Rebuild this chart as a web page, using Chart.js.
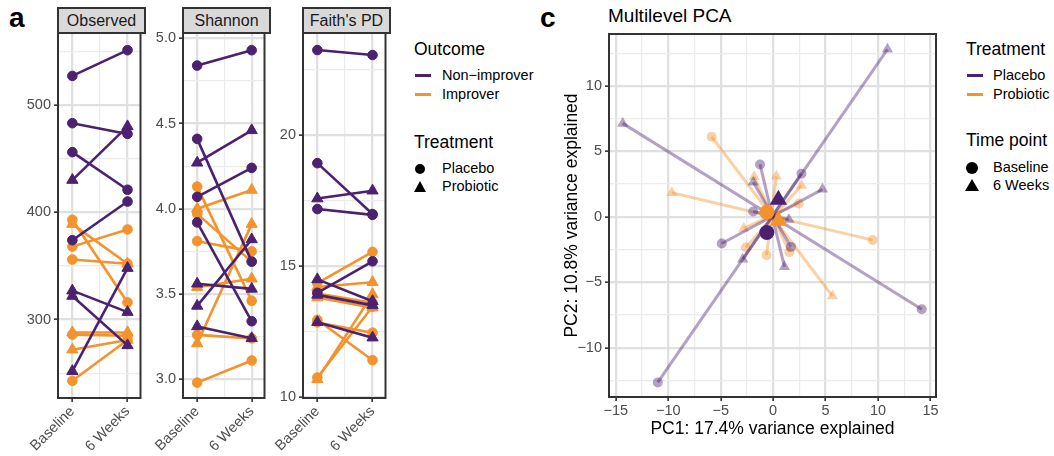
<!DOCTYPE html>
<html>
<head>
<meta charset="utf-8">
<script src="https://cdn.jsdelivr.net/npm/chart.js@4.4.1/dist/chart.umd.min.js"></script>
<style>
  body { margin: 0; background: #fff; width: 1054px; height: 456px; position: relative; overflow: hidden;
         font-family: "Liberation Sans", Arial, sans-serif; }
  canvas { position: absolute; }
  .strip { position: absolute; top: 7px; height: 27px; box-sizing: border-box; background: #D9D9D9;
           border: 2px solid #333; text-align: center; font-size: 16px; line-height: 23px; color: #1a1a1a; }
  .letter { position: absolute; top: 2px; font-size: 28px; font-weight: bold; color: #000; }
  .lt { position: absolute; font-size: 17.5px; line-height: 20px; color: #000; }
  .li { position: absolute; font-size: 14.5px; line-height: 17px; color: #000; }
  .key { position: absolute; width: 16px; height: 3px; }
  .dot { position: absolute; background: #000; border-radius: 50%; }
  .tri { position: absolute; width: 0; height: 0; border-style: solid; border-color: transparent transparent #000 transparent; }
</style>
</head>
<body>
<div class="letter" style="left:9px">a</div>
<div class="letter" style="left:540px">c</div>
<div class="lt" style="left:608px;top:5px;font-size:19px;line-height:22px">Multilevel PCA</div>

<div class="strip" style="left:57px;width:89px">Observed</div>
<div class="strip" style="left:182px;width:89px">Shannon</div>
<div class="strip" style="left:302px;width:89px">Faith's PD</div>

<canvas id="observed" width="148" height="436" style="left:0;top:20px"></canvas>
<canvas id="shannon" width="132" height="436" style="left:140px;top:20px"></canvas>
<canvas id="faith" width="131" height="436" style="left:262px;top:20px"></canvas>
<canvas id="pca" width="387" height="436" style="left:559px;top:20px"></canvas>

<!-- legend of panel a -->
<div class="lt" style="left:414px;top:39px">Outcome</div>
<div class="key" style="left:415px;top:74px;background:#4B2170"></div>
<div class="li" style="left:442px;top:67px">Non&minus;improver</div>
<div class="key" style="left:415px;top:93px;background:#F4922C"></div>
<div class="li" style="left:442px;top:86px">Improver</div>
<div class="lt" style="left:414px;top:132px">Treatment</div>
<div class="dot" style="left:415px;top:164px;width:10px;height:10px"></div>
<div class="li" style="left:442px;top:160px">Placebo</div>
<div class="tri" style="left:414px;top:181px;border-width:0 6px 11px 6px"></div>
<div class="li" style="left:442px;top:178px">Probiotic</div>

<!-- legend of panel c -->
<div class="lt" style="left:966px;top:39px">Treatment</div>
<div class="key" style="left:967px;top:74px;background:#4B2170"></div>
<div class="li" style="left:993px;top:67px">Placebo</div>
<div class="key" style="left:967px;top:93px;background:#F4922C"></div>
<div class="li" style="left:993px;top:86px">Probiotic</div>
<div class="lt" style="left:966px;top:130px">Time point</div>
<div class="dot" style="left:966px;top:162px;width:12px;height:12px"></div>
<div class="li" style="left:993px;top:159px">Baseline</div>
<div class="tri" style="left:965px;top:179px;border-width:0 7px 12px 7px"></div>
<div class="li" style="left:993px;top:177px">6 Weeks</div>

<script>
// time points on the x axis of panel a
const timePoints = ['Baseline', '6 Weeks'];

// outcome of each subject line in the facets (same order in every facet)
const facetOutcome = ['Non-improver', 'Non-improver', 'Non-improver', 'Non-improver',
                      'Non-improver', 'Non-improver', 'Non-improver', 'Non-improver',
                      'Improver', 'Improver', 'Improver', 'Improver',
                      'Improver', 'Improver', 'Improver', 'Improver'];

// Observed
const observedBaseline = [527, 483, 456, 374, 430, 327, 322, 252, 393, 389, 368, 356, 286, 288, 272, 243];
const observedWeek6 = [551, 473, 421, 410, 480, 307, 276, 348, 316, 352, 384, 352, 285, 288, 281, 281];
const observedTreatment = ['Placebo', 'Placebo', 'Placebo', 'Placebo', 'Probiotic', 'Probiotic', 'Probiotic', 'Probiotic',
                           'Placebo', 'Probiotic', 'Placebo', 'Placebo', 'Placebo', 'Probiotic', 'Probiotic', 'Placebo'];
const observedMajor = [300, 400, 500];
const observedMinor = [250, 350, 450, 550];

// Shannon
const shannonBaseline = [4.84, 4.41, 4.07, 3.92, 4.27, 3.56, 3.43, 3.31, 4.13, 4.00, 3.97, 3.81, 3.54, 3.26, 3.21, 2.98];
const shannonWeek6 = [4.93, 3.69, 4.24, 3.34, 4.46, 3.53, 3.82, 3.24, 3.46, 4.11, 3.69, 3.75, 3.59, 3.24, 3.91, 3.11];
const shannonTreatment = ['Placebo', 'Placebo', 'Placebo', 'Placebo', 'Probiotic', 'Probiotic', 'Probiotic', 'Probiotic',
                          'Placebo', 'Probiotic', 'Placebo', 'Placebo', 'Probiotic', 'Placebo', 'Probiotic', 'Placebo'];
const shannonMajor = [3.0, 3.5, 4.0, 4.5, 5.0];
const shannonMinor = [3.25, 3.75, 4.25, 4.75];

// Faith's PD
const faithBaseline = [23.23, 18.92, 17.17, 13.98, 17.57, 14.49, 13.9, 12.86, 14.35, 13.95, 12.95, 12.85, 10.75, 14.2, 13.8, 10.68];
const faithWeek6 = [23.04, 16.98, 16.95, 15.18, 17.87, 13.66, 13.5, 12.27, 15.54, 13.6, 11.41, 12.46, 13.45, 14.38, 13.41, 13.92];
const faithTreatment = ['Placebo', 'Placebo', 'Placebo', 'Placebo', 'Probiotic', 'Probiotic', 'Probiotic', 'Probiotic',
                        'Placebo', 'Placebo', 'Placebo', 'Placebo', 'Placebo', 'Probiotic', 'Probiotic', 'Probiotic'];
const faithMajor = [10, 15, 20];
const faithMinor = [12.5, 17.5, 22.5];

// Multilevel PCA: one baseline point and one 6-week point per subject
const pcaTreatment = ['Placebo', 'Placebo', 'Placebo', 'Placebo', 'Placebo', 'Placebo', 'Placebo',
                      'Probiotic', 'Probiotic', 'Probiotic', 'Probiotic', 'Probiotic', 'Probiotic'];
const pcaBaseX = [-11.0, 14.17, -1.25, 2.7, -4.9, -1.9, 1.7, -5.86, 9.5, 1.55, -0.63, 2.45, -2.6];
const pcaBaseY = [-12.66, -7.06, 4.0, 3.3, -2.04, 0.4, -2.3, 6.12, -1.78, -2.7, -2.93, 1.02, -2.35];
const pcaWeek6X = [10.9, -14.34, 1.08, -2.9, 4.7, 1.5, -1.9, 5.66, -9.66, -1.81, 0.31, -2.8, 2.7];
const pcaWeek6Y = [12.8, 7.14, -3.82, -3.25, 2.1, -0.2, 2.65, -6.06, 1.84, 3.06, 3.1, -0.89, 2.4];
// group means
const meanTreatment = ['Placebo', 'Placebo', 'Probiotic', 'Probiotic'];
const meanTime = ['Baseline', '6 Weeks', 'Baseline', '6 Weeks'];
const meanX = [-0.6, 0.5, -0.6, 0.5];
const meanY = [-1.2, 1.3, 0.35, -0.3];
const pcaXMajor = [-15, -10, -5, 0, 5, 10, 15];
const pcaXMinor = [-12.5, -7.5, -2.5, 2.5, 7.5, 12.5];
const pcaYMajor = [-10, -5, 0, 5, 10];
const pcaYMinor = [-12.5, -7.5, -2.5, 2.5, 7.5, 12.5];

const outcomeColours = { 'Non-improver': '#4B2170', 'Improver': '#F4922C' };
const treatmentColours = { 'Placebo': '#4B2170', 'Probiotic': '#F4922C' };
const treatmentFaded = { 'Placebo': 'rgba(75,33,112,0.42)', 'Probiotic': 'rgba(244,146,44,0.42)' };

Chart.defaults.font.family = '"Liberation Sans", Arial, sans-serif';

const frame = {
  id: 'frame',
  afterDatasetsDraw(chart) {
    const { ctx, chartArea: a } = chart;
    ctx.save();
    ctx.strokeStyle = '#333';
    ctx.lineWidth = 2;
    ctx.strokeRect(a.left, a.top, a.right - a.left, a.bottom - a.top);
    ctx.restore();
  }
};

function gridFor(major) {
  const isMajor = c => c.tick && major.some(m => Math.abs(m - c.tick.value) < 1e-9);
  return {
    color: c => isMajor(c) ? '#E0E0E0' : '#ECECEC',
    lineWidth: c => isMajor(c) ? 2.3 : 1.2,
    tickColor: c => isMajor(c) ? '#333333' : 'rgba(0,0,0,0)',
    tickWidth: 1.6,
    tickLength: 4
  };
}

function minus(v) {
  return v < 0 ? '\u2212' + Math.abs(v) : String(v);
}

const tickFont = { size: 14.5 };

function facetChart(id, baseline, week6, treatment, major, minor, yMin, yMax, yWidth, digits) {
  const datasets = baseline.map((b, i) => {
    const colour = outcomeColours[facetOutcome[i]];
    const tri = treatment[i] === 'Probiotic';
    return {
      data: [{ x: 1, y: b }, { x: 2, y: week6[i] }],
      borderColor: colour,
      backgroundColor: colour,
      pointBackgroundColor: colour,
      pointBorderColor: colour,
      borderWidth: 2.6,
      pointStyle: tri ? 'triangle' : 'circle',
      pointRadius: tri ? 6.5 : 4.8,
      pointBorderWidth: 1,
      clip: false
    };
  });
  new Chart(document.getElementById(id), {
    type: 'line',
    data: { datasets },
    options: {
      responsive: false,
      animation: false,
      devicePixelRatio: 1,
      layout: { padding: { top: 13, right: 3, bottom: 0, left: 0 } },
      plugins: { legend: { display: false }, tooltip: { enabled: false } },
      scales: {
        x: {
          type: 'linear', min: 0.74, max: 2.235,
          afterBuildTicks: s => { s.ticks = [1, 1.5, 2].map(v => ({ value: v })); },
          afterFit: s => { s.height = 58; s.paddingLeft = 0; s.paddingRight = 0; },
          grid: gridFor([1, 2]),
          border: { display: false },
          ticks: {
            autoSkip: false, minRotation: 45, maxRotation: 45, padding: 1,
            color: '#4D4D4D', font: tickFont,
            callback: v => v === 1 ? timePoints[0] : (v === 2 ? timePoints[1] : '')
          }
        },
        y: {
          type: 'linear', min: yMin, max: yMax,
          afterBuildTicks: s => { s.ticks = major.concat(minor).sort((p, q) => p - q).map(v => ({ value: v })); },
          afterFit: s => { s.width = yWidth; s.paddingTop = 0; s.paddingBottom = 0; },
          grid: gridFor(major),
          border: { display: false },
          ticks: {
            autoSkip: false, padding: 3, color: '#4D4D4D', font: tickFont,
            callback: v => major.some(m => Math.abs(m - v) < 1e-9) ? v.toFixed(digits) : ''
          }
        }
      }
    },
    plugins: [frame]
  });
}

facetChart('observed', observedBaseline, observedWeek6, observedTreatment, observedMajor, observedMinor, 227, 567, 58, 0);
facetChart('shannon', shannonBaseline, shannonWeek6, shannonTreatment, shannonMajor, shannonMinor, 2.89, 5.031, 43, 1);
facetChart('faith', faithBaseline, faithWeek6, faithTreatment, faithMajor, faithMinor, 9.97, 23.88, 41, 0);

// PCA panel
const pcaSets = pcaBaseX.map((bx, i) => {
  const c = treatmentFaded[pcaTreatment[i]];
  return {
    data: [{ x: bx, y: pcaBaseY[i] }, { x: pcaWeek6X[i], y: pcaWeek6Y[i] }],
    borderColor: c,
    backgroundColor: c,
    pointBackgroundColor: c,
    pointBorderWidth: 0,
    borderWidth: 3,
    pointStyle: ['circle', 'triangle'],
    pointRadius: [5, 6.5],
    order: 1
  };
});
pcaSets.unshift({
  data: meanX.map((x, i) => ({ x, y: meanY[i] })),
  showLine: false,
  pointStyle: meanTime.map(t => t === 'Baseline' ? 'circle' : 'triangle'),
  pointRadius: meanTime.map(t => t === 'Baseline' ? 7.5 : 10),
  pointBackgroundColor: meanTreatment.map(t => treatmentColours[t]),
  pointBorderColor: meanTreatment.map(t => treatmentColours[t]),
  pointBorderWidth: 0,
  order: 0
});

new Chart(document.getElementById('pca'), {
  type: 'line',
  data: { datasets: pcaSets },
  options: {
    responsive: false,
    animation: false,
    devicePixelRatio: 1,
    layout: { padding: { top: 14, right: 3, bottom: 13, left: 0 } },
    plugins: { legend: { display: false }, tooltip: { enabled: false } },
    scales: {
      x: {
        type: 'linear', min: -15.65, max: 15.53,
        afterBuildTicks: s => { s.ticks = pcaXMajor.concat(pcaXMinor).sort((p, q) => p - q).map(v => ({ value: v })); },
        afterFit: s => { s.height = 46; s.paddingLeft = 0; s.paddingRight = 0; },
        grid: gridFor(pcaXMajor),
        border: { display: false },
        title: { display: true, text: 'PC1: 17.4% variance explained', color: '#000', font: { size: 17.5 }, padding: { top: 0, bottom: 3 } },
        ticks: {
          autoSkip: false, maxRotation: 0, minRotation: 0, padding: 1, color: '#4D4D4D', font: tickFont,
          callback: v => pcaXMajor.includes(v) ? minus(v) : ''
        }
      },
      y: {
        type: 'linear', min: -13.77, max: 13.97,
        afterBuildTicks: s => { s.ticks = pcaYMajor.concat(pcaYMinor).sort((p, q) => p - q).map(v => ({ value: v })); },
        afterFit: s => { s.width = 50; s.paddingTop = 0; s.paddingBottom = 0; },
        grid: gridFor(pcaYMajor),
        border: { display: false },
        title: { display: true, text: 'PC2: 10.8% variance explained', color: '#000', font: { size: 17.5 }, padding: { top: 3, bottom: 0 } },
        ticks: {
          autoSkip: false, padding: 3, color: '#4D4D4D', font: tickFont,
          callback: v => pcaYMajor.includes(v) ? minus(v) : ''
        }
      }
    }
  },
  plugins: [frame]
});
</script>
</body>
</html>
